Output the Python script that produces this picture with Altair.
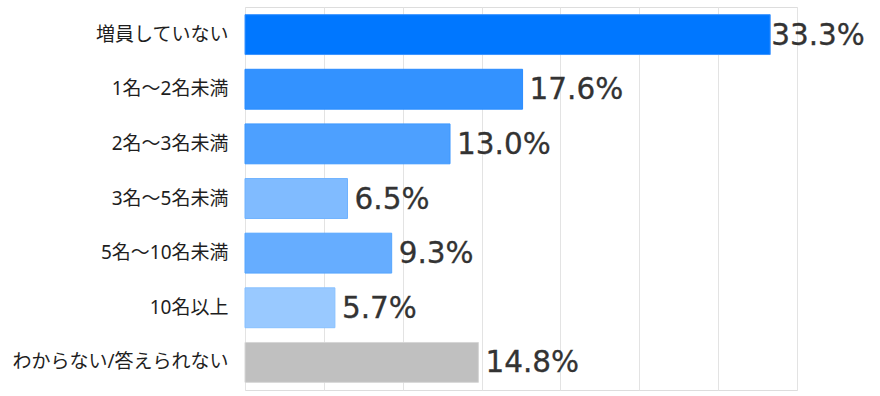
import altair as alt
import pandas as pd

categories = ["増員していない", "1名～2名未満", "2名～3名未満", "3名～5名未満",
              "5名～10名未満", "10名以上", "わからない/答えられない"]
values = [33.3, 17.6, 13.0, 6.5, 9.3, 5.7, 14.8]

# styles (kept separate from data)
fill_colors = ["#0077FF", "#3392FF", "#4DA0FF", "#80BBFF", "#66ADFF", "#99C9FF", "#C0C0C0"]
stroke_colors = ["#3A93FF", "#2A8CFF", "#3D98FF", "#6FB2FF", "#55A5FF", "#88C0FF", "#D6D6D6"]

df = pd.DataFrame({"cat": categories, "v": values})
vmax = max(values)

y_enc = alt.Y("cat:N", sort=categories, title=None,
              scale=alt.Scale(paddingInner=0.27, paddingOuter=0.14),
              axis=alt.Axis(labelFont="Noto Sans, Noto Sans CJK JP", labelFontSize=19,
                            labelFontWeight=400,
                            labelColor="#1E1E1E", ticks=False, domain=False,
                            labelPadding=17, labelLimit=300))

x_enc = alt.X("v:Q", title=None,
              scale=alt.Scale(domain=[0, 35], nice=False),
              axis=alt.Axis(values=[0, 5, 10, 15, 20, 25, 30, 35], labels=False,
                            ticks=False, domain=False, grid=True,
                            gridColor="#E3E3E3", gridWidth=1))

bars = alt.Chart(df).mark_bar(strokeWidth=1).encode(
    y=y_enc,
    x=x_enc,
    fill=alt.Fill("cat:N", scale=alt.Scale(domain=categories, range=fill_colors), legend=None),
    stroke=alt.Stroke("cat:N", scale=alt.Scale(domain=categories, range=stroke_colors), legend=None),
)

text_base = alt.Chart(df).transform_calculate(
    lbl="format(datum.v, '.1f') + '%'"
)
text_style = dict(align="left", baseline="middle", dy=1, font="DejaVu Sans",
                  fontSize=29.5, color="#333333", stroke="#333333", strokeWidth=0.3)

labels = text_base.transform_filter(alt.datum.v < vmax).mark_text(dx=7, **text_style).encode(
    y=alt.Y("cat:N", sort=categories), x="v:Q", text="lbl:N")
label_top = text_base.transform_filter(alt.datum.v >= vmax).mark_text(dx=1, **text_style).encode(
    y=alt.Y("cat:N", sort=categories), x="v:Q", text="lbl:N")

chart = alt.layer(bars, labels, label_top).properties(
    width=552, height=383,
    autosize=alt.AutoSizeParams(type="none"),
    padding={"left": 245, "top": 7, "right": 83, "bottom": 6},
).configure_view(stroke=None).configure(background="white")

chart.save("out.html", embed_options={"renderer": "svg", "actions": False})
